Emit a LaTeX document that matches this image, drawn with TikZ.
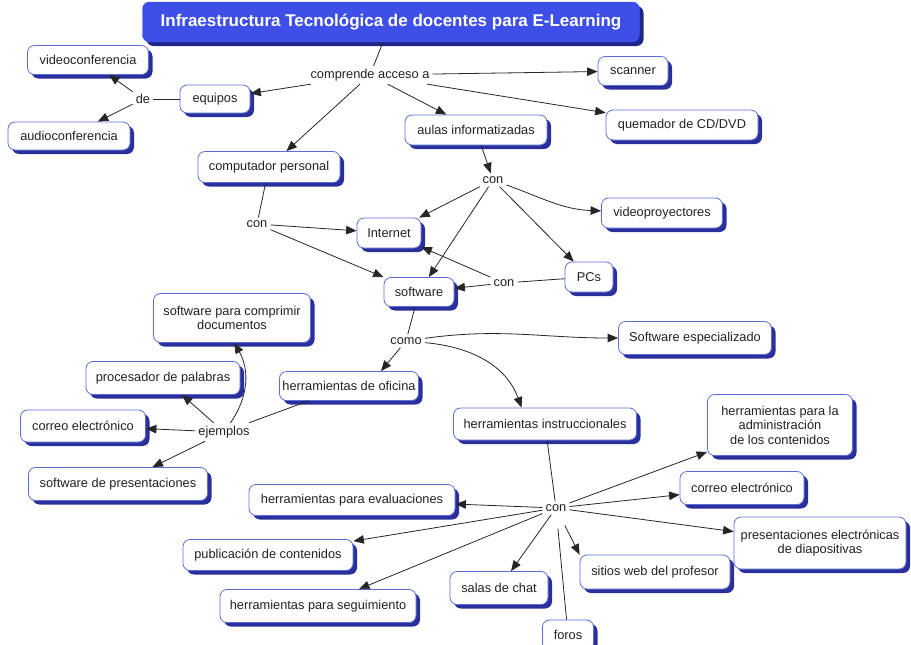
\documentclass[tikz,border=0pt]{standalone}
\usepackage{fontspec}
\setmainfont{Liberation Sans}
\usetikzlibrary{arrows.meta,shadows}
\definecolor{cborder}{HTML}{5A6ED8}
\definecolor{cshadow}{HTML}{2A2F9C}
\definecolor{tfill}{HTML}{3D4FE6}
\definecolor{tshadow}{HTML}{1E2688}
\definecolor{ctext}{HTML}{222222}
\newcommand{\cfont}{\fontsize{12.8}{14.5}\selectfont}
\tikzset{
  concept/.style={draw=cborder, line width=0.8pt, fill=white, rounded corners=7pt,
    drop shadow={shadow xshift=4pt, shadow yshift=-4pt, fill=cshadow, opacity=1},
    font=\cfont, text=ctext, align=center, inner sep=3pt},
  titlebox/.style={draw=tfill, fill=tfill, rounded corners=7pt,
    drop shadow={shadow xshift=4pt, shadow yshift=-4pt, fill=tshadow, opacity=1},
    font=\fontsize{17}{19}\selectfont\bfseries, text=white, inner sep=3pt},
  linkp/.style={font=\cfont, text=ctext, inner sep=3pt},
  arr/.style={-{Triangle[length=10.5pt,width=8.5pt]}, line width=0.8pt, draw=black!85},
  ln/.style={line width=0.8pt, draw=black!85}
}
\begin{document}
\begin{tikzpicture}[x=1pt,y=1pt]
\useasboundingbox (0,0) rectangle (911,-645);
% concepts
\node[titlebox, minimum width=497, minimum height=40] (title) at (391,-22) {Infraestructura Tecnológica de docentes para E-Learning};
\node[concept, minimum width=121, minimum height=29] (videoconf) at (88,-60) {videoconferencia};
\node[concept, minimum width=122, minimum height=28] (audioconf) at (69,-136) {audioconferencia};
\node[concept, minimum width=70, minimum height=28] (equipos) at (215,-99) {equipos};
\node[concept, minimum width=70, minimum height=29] (scanner) at (633,-71) {scanner};
\node[concept, minimum width=152, minimum height=30] (quemador) at (682,-125) {quemador de CD/DVD};
\node[concept, minimum width=142, minimum height=30] (aulas) at (476,-130) {aulas informatizadas};
\node[concept, minimum width=142, minimum height=31] (computador) at (269,-167) {computador personal};
\node[concept, minimum width=121, minimum height=30] (videoproy) at (662,-213) {videoproyectores};
\node[concept, minimum width=64, minimum height=30] (internet) at (389,-233) {Internet};
\node[concept, minimum width=70, minimum height=29] (software) at (419,-292) {software};
\node[concept, minimum width=48, minimum height=30] (pcs) at (589,-277) {PCs};
\node[concept, minimum width=153, minimum height=33] (swesp) at (695,-338) {Software especializado};
\node[concept, minimum width=136, minimum height=29] (oficina) at (349,-386) {herramientas de oficina};
\node[concept, minimum width=183, minimum height=32] (instruc) at (545,-424) {herramientas instruccionales};
\node[concept, minimum width=157, minimum height=49] (comprimir) at (232,-318) {software para comprimir\\documentos};
\node[concept, minimum width=154, minimum height=33] (procesador) at (163,-378) {procesador de palabras};
\node[concept, minimum width=125, minimum height=32] (correoL) at (83,-426) {correo electrónico};
\node[concept, minimum width=179, minimum height=33] (presentL) at (118,-484) {software de presentaciones};
\node[concept, minimum width=145, minimum height=61] (admin) at (780,-425) {herramientas para la\\administración\\de los contenidos};
\node[concept, minimum width=124, minimum height=33] (correoR) at (742,-488) {correo electrónico};
\node[concept, minimum width=172, minimum height=52] (presentR) at (820,-543) {presentaciones electrónicas\\de diapositivas};
\node[concept, minimum width=150, minimum height=34] (sitios) at (655,-572) {sitios web del profesor};
\node[concept, minimum width=51, minimum height=30] (foros) at (568,-635) {foros};
\node[concept, minimum width=98, minimum height=33] (salas) at (499,-588) {salas de chat};
\node[concept, minimum width=206, minimum height=31] (evaluaciones) at (352,-500) {herramientas para evaluaciones};
\node[concept, minimum width=170, minimum height=31] (publicacion) at (268,-555) {publicación de contenidos};
\node[concept, minimum width=196, minimum height=33] (seguimiento) at (318,-606) {herramientas para seguimiento};
% linking phrases
\node[linkp] (comprende) at (370,-75) {comprende acceso a};
\node[linkp] (de) at (143,-99) {de};
\node[linkp] (con1) at (493,-180) {con};
\node[linkp] (con2) at (257,-224) {con};
\node[linkp] (con3) at (504,-283) {con};
\node[linkp] (como) at (406,-341) {como};
\node[linkp] (ejemplos) at (224,-432) {ejemplos};
\node[linkp] (con4) at (556,-508) {con};
% connectors
\draw[ln] (title) -- (comprende);
\draw[arr] (comprende) -- (equipos);
\draw[arr] (comprende) -- (computador);
\draw[arr] (comprende) -- (aulas);
\draw[arr] (comprende) -- (scanner);
\draw[arr] (comprende) -- (quemador);
\draw[ln] (equipos) -- (de);
\draw[arr] (de) -- (videoconf);
\draw[arr] (de) -- (audioconf);
\draw[arr] (aulas) -- (con1);
\draw[arr] (con1) -- (internet);
\draw[arr] (con1) -- (software);
\draw[arr] (con1) -- (pcs);
\draw[arr] (con1) to[out=-20,in=178] (videoproy);
\draw[ln] (computador) -- (con2);
\draw[arr] (con2) -- (internet);
\draw[arr] (con2) -- (software);
\draw[ln] (pcs) -- (con3);
\draw[arr] (con3) -- (software);
\draw[arr] (con3) -- (internet);
\draw[ln] (software) -- (como);
\draw[arr] (como) -- (oficina.25);
\draw[arr] (como) to[out=8,in=180] (swesp);
\draw[arr] (como) to[out=-5,in=110] (instruc.145);
\draw[ln] (oficina) -- (ejemplos);
\draw[arr] (ejemplos) to[out=55,in=-60] (comprimir.-85);
\draw[arr] (ejemplos) -- (procesador);
\draw[arr] (ejemplos) -- (correoL);
\draw[arr] (ejemplos) -- (presentL);
\draw[ln] (instruc) -- (con4);
\draw[arr] (con4) -- (admin);
\draw[arr] (con4) -- (correoR);
\draw[arr] (con4) -- (presentR);
\draw[arr, shorten <=12pt] (con4) -- (sitios.north west);
\draw[ln, shorten <=14pt] (con4) -- (foros);
\draw[arr] (con4) -- (salas);
\draw[arr] (con4) -- (evaluaciones);
\draw[arr] (con4) -- (publicacion);
\draw[arr] (con4) -- (seguimiento);
\end{tikzpicture}
\end{document}
